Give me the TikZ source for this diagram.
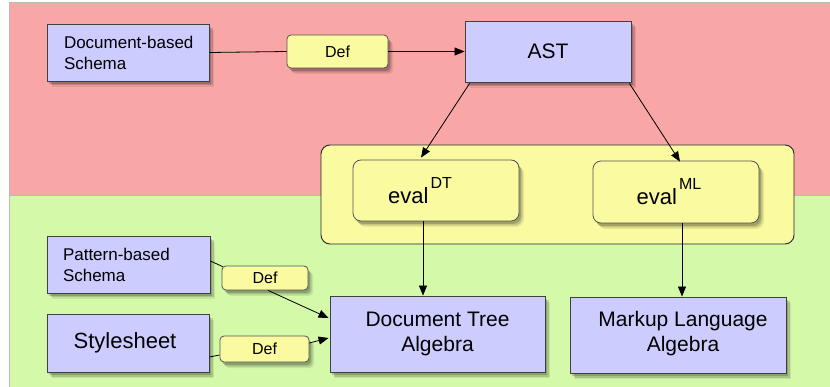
\documentclass[tikz,border=0pt]{standalone}
\usepackage{fontspec}
\setmainfont{Liberation Sans}
\usetikzlibrary{arrows.meta,shadows}

\definecolor{zonetop}{HTML}{F9A6A6}
\definecolor{zonebottom}{HTML}{D4F9A9}
\definecolor{boxblue}{HTML}{CCCCFF}
\definecolor{boxyellow}{HTML}{FAFAA0}
\definecolor{edgegrey}{HTML}{404040}

\tikzset{
  softshadow/.style={
    drop shadow={shadow xshift=2pt,shadow yshift=-3pt,opacity=0.18,fill=black},
    drop shadow={shadow xshift=3.5pt,shadow yshift=-4.5pt,opacity=0.14,fill=black},
    drop shadow={shadow xshift=5pt,shadow yshift=-6pt,opacity=0.08,fill=black}},
  bluebox/.style={draw=edgegrey,line width=0.9pt,fill=boxblue,softshadow,
    inner sep=0pt,font=\fontsize{17}{21}\selectfont},
  bigblue/.style={bluebox,align=center,font=\fontsize{21}{25}\selectfont},
  defbox/.style={draw=edgegrey!90,line width=0.8pt,fill=boxyellow,rounded corners=4pt,
    softshadow,inner sep=0pt,font=\fontsize{16}{19}\selectfont},
  evalbox/.style={draw=edgegrey!90,line width=0.8pt,fill=boxyellow,rounded corners=8pt,
    softshadow,inner sep=0pt,minimum width=166pt,font=\fontsize{22}{26}\selectfont},
  group/.style={draw=black!85,line width=0.9pt,fill=boxyellow,rounded corners=9pt},
  link/.style={draw=black,line width=0.8pt},
  arrowlink/.style={link,-{Triangle[length=10pt,width=8pt]}},
}

\newcommand{\evaltext}[1]{eval\kern2pt\raisebox{15pt}{\fontsize{16}{19}\selectfont #1}}

\begin{document}
\begin{tikzpicture}[x=1pt,y=-1pt]
  \useasboundingbox (0,0) rectangle (830,387);

  % two horizontal zones
  \fill[white] (0,0) rectangle (830,387);
  \path[fill=zonetop,draw=gray!55,line width=0.8pt] (9,2) rectangle (831,195);
  \path[fill=zonebottom,draw=gray!55,line width=0.8pt] (9,195) rectangle (831,388);

  % evaluation group
  \node[group,minimum width=473pt,minimum height=99pt] (grp) at (557.5,194.5) {};

  % schema boxes on the left
  \node[bluebox,minimum width=162pt,minimum height=57pt,text width=128pt,
        inner xsep=17pt,align=left] (dschema) at (128,52.5)
        {\mbox{Document-based}\\Schema};
  \node[bluebox,minimum width=163pt,minimum height=57pt,text width=131pt,
        inner xsep=16pt,align=left] (pschema) at (128.5,264.5)
        {\mbox{Pattern-based}\\Schema};
  \node[bigblue,minimum width=162pt,minimum height=58pt,
        font=\fontsize{22}{26}\selectfont] (style) at (128,343)
        {Stylesheet\hspace*{6pt}};

  % definition labels
  \node[defbox,minimum width=101pt,minimum height=33pt] (def1) at (337.5,51.5) {Def};
  \node[defbox,minimum width=86pt,minimum height=24pt] (def2) at (265,278) {Def};
  \node[defbox,minimum width=89pt,minimum height=26pt] (def3) at (264.5,349) {Def};

  % syntax tree
  \node[bigblue,minimum width=166pt,minimum height=61pt] (ast) at (548,51.5) {AST};

  % evaluators
  \node[evalbox,minimum height=61pt] (evaldt) at (436,190.5)
        {\evaltext{DT}\hspace*{32pt}};
  \node[evalbox,minimum height=62pt] (evalml) at (676,192)
        {\evaltext{ML}\hspace*{14pt}};

  % algebras
  \node[bigblue,minimum width=215pt,minimum height=76pt] (dta) at (437.5,334)
        {Document Tree\\Algebra};
  \node[bigblue,minimum width=216pt,minimum height=76pt] (mla) at (678,335)
        {\hspace*{10pt}Markup Language\\\hspace*{10pt}Algebra\\[-18pt]};

  % connectors
  \draw[link] (dschema.east) -- (def1.west);
  \draw[arrowlink] (def1.east) -- (ast.west);
  \draw[arrowlink] ([xshift=5pt,yshift=-1pt]ast.south west) -- ([xshift=-15pt,yshift=2pt]evaldt.north);
  \draw[arrowlink] ([xshift=-2pt,yshift=-1pt]ast.south east) -- ([xshift=4pt,yshift=-1pt]evalml.north);
  \draw[arrowlink] ([xshift=-13pt]evaldt.south) -- ([xshift=-13pt]evaldt.south |- dta.north);
  \draw[arrowlink] ([xshift=6pt]evalml.south) -- ([xshift=6pt]evalml.south |- mla.north);
  \draw[link] ([yshift=3.5pt]pschema.east) -- ([xshift=1pt,yshift=-1pt]def2.north west);
  \draw[arrowlink] ([xshift=3pt]def2.south) -- ([xshift=-1pt,yshift=16pt]dta.west);
  \draw[link] ([yshift=-14pt]style.east) -- ([yshift=-6pt]def3.west);
  \draw[arrowlink] ([yshift=6pt]def3.east) -- ([xshift=-1pt,yshift=-4pt]dta.west);
\end{tikzpicture}
\end{document}
